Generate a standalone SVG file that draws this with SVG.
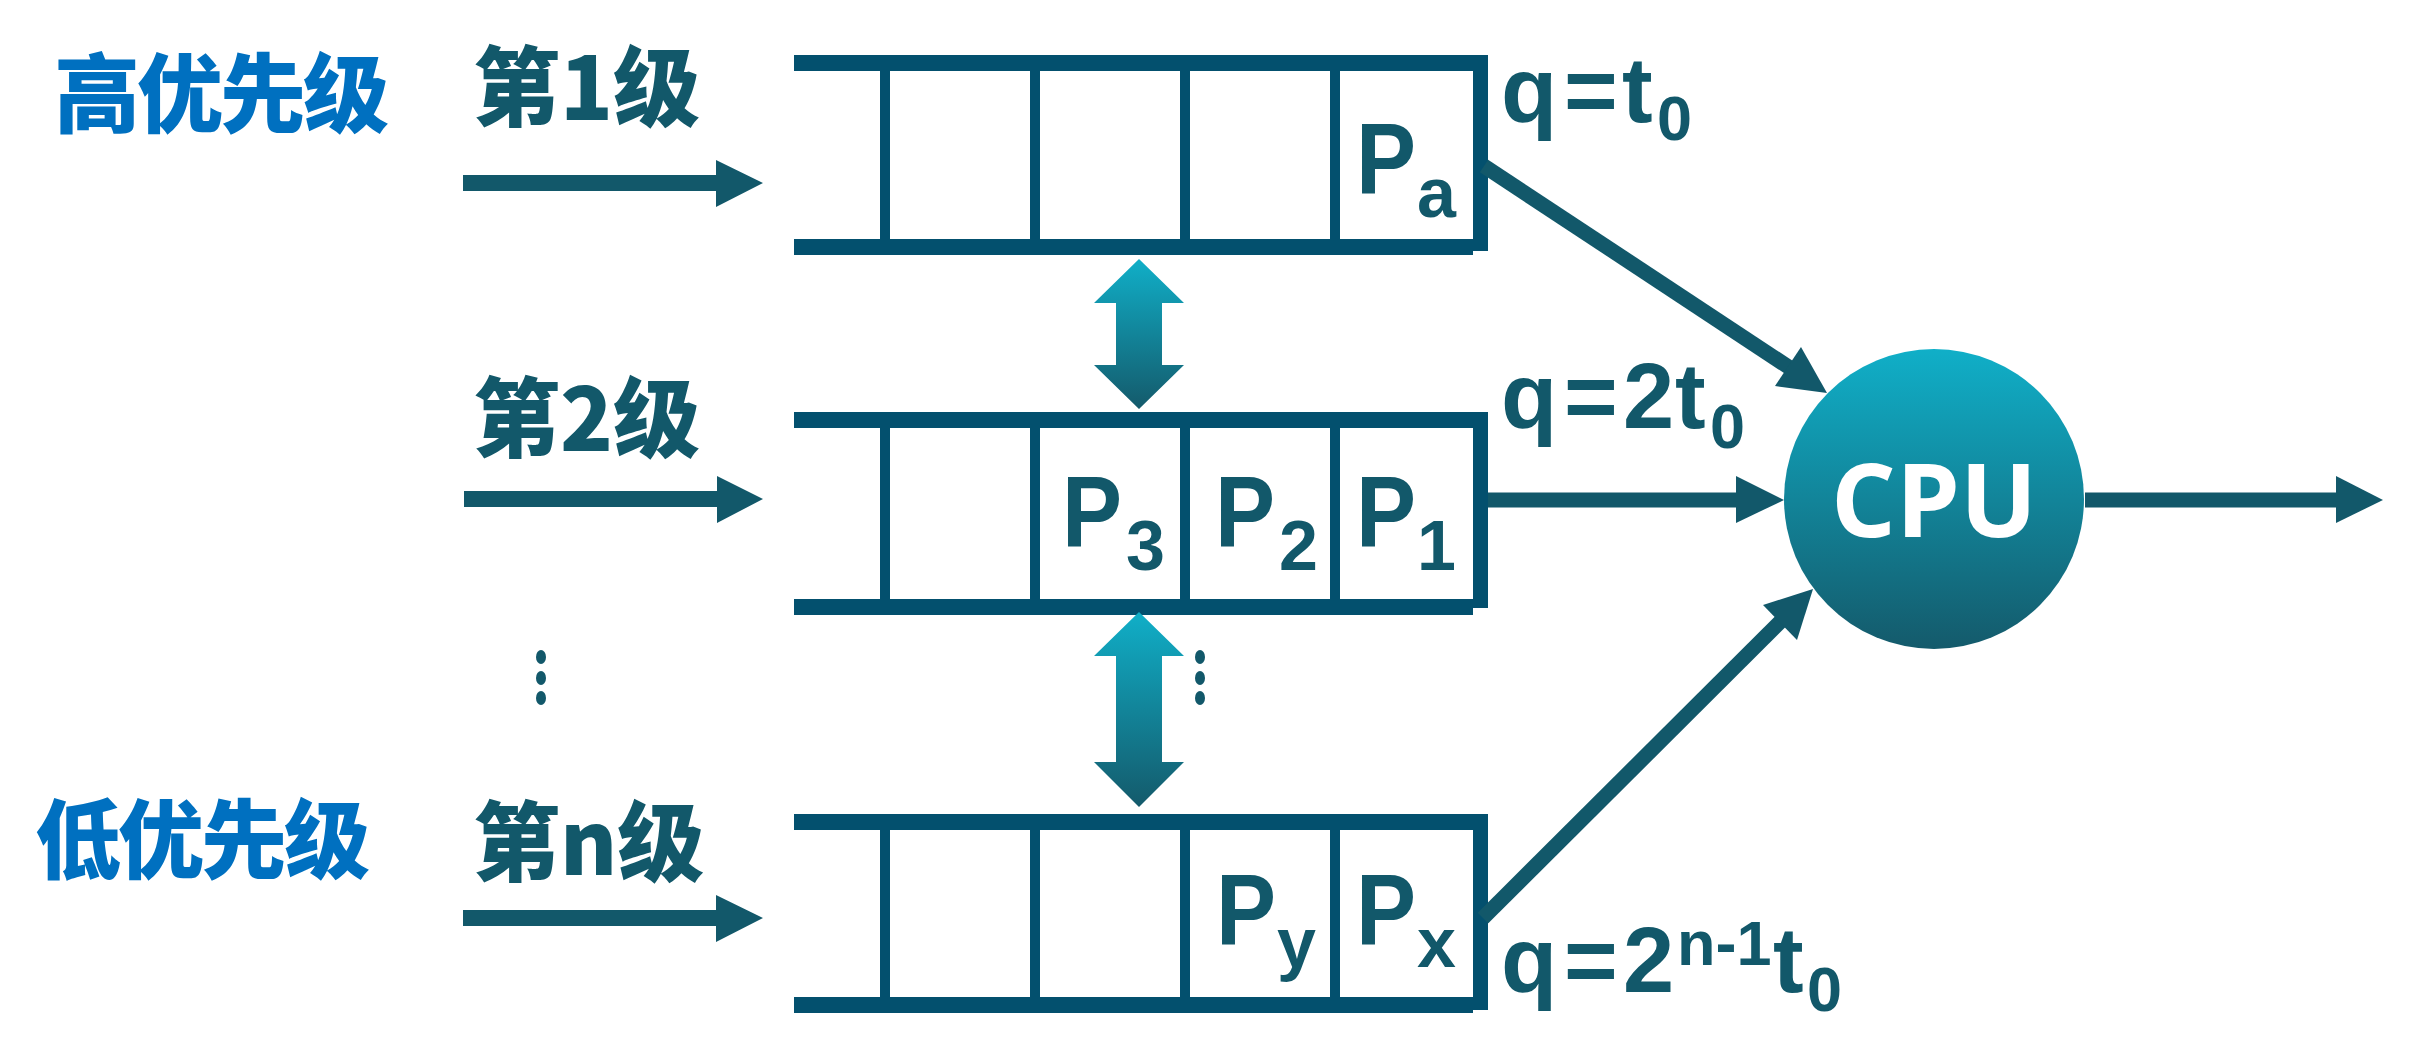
<svg xmlns="http://www.w3.org/2000/svg" width="2411" height="1062" viewBox="0 0 2411 1062">
<defs>
<linearGradient id="gv" x1="0" y1="0" x2="0" y2="1">
<stop offset="0" stop-color="#10AFC8"/>
<stop offset="1" stop-color="#145A6B"/>
</linearGradient>
<style>
.bar{fill:#03506E}
.cn{fill:#12586A}
.ln{stroke:#12586A;stroke-width:15;fill:none}
.prio{font-family:"Noto Sans CJK SC","Noto Sans",sans-serif;font-weight:900;font-size:86px;fill:#0070C0;letter-spacing:-3px}
.lvl{font-family:"Noto Sans CJK SC","Noto Sans",sans-serif;font-weight:900;font-size:87px;fill:#12586A}
.m{font-family:"Liberation Sans",Arial,sans-serif;font-weight:700;fill:#12586A}
.pb{font-size:100px}
.ps{font-size:70px}
.qb{font-size:92px}
.qs{font-size:63px}
.cpu{font-family:"Open Sans","Noto Sans",sans-serif;font-weight:700;font-size:102px;fill:#FFFFFF}
</style>
</defs>
<rect width="2411" height="1062" fill="#FFFFFF"/>

<g id="label-high"><text class="prio" x="54" y="126">高优先级</text></g>
<g id="label-low"><text class="prio" x="35" y="872">低优先级</text></g>

<g id="label-l1"><text class="lvl" x="473" y="120">第1级</text></g>
<g id="label-l2"><text class="lvl" x="473" y="451">第2级</text></g>
<g id="label-ln"><text class="lvl" x="473" y="875">第n级</text></g>

<g id="dots-left" class="cn">
<ellipse cx="541" cy="657" rx="5" ry="7"/>
<ellipse cx="541" cy="678" rx="5" ry="7"/>
<ellipse cx="541" cy="698" rx="5" ry="7"/>
</g>
<g id="dots-mid" class="cn">
<ellipse cx="1200" cy="657" rx="5" ry="7"/>
<ellipse cx="1200" cy="678" rx="5" ry="7"/>
<ellipse cx="1200" cy="698" rx="5" ry="7"/>
</g>

<g id="queue1">
<rect class="bar" x="794" y="55" width="694" height="16"/>
<rect class="bar" x="794" y="239" width="679" height="16"/>
<rect class="bar" x="1473" y="55" width="15" height="196"/>
<rect class="bar" x="880" y="60" width="10" height="190"/>
<rect class="bar" x="1030" y="60" width="10" height="190"/>
<rect class="bar" x="1180" y="60" width="10" height="190"/>
<rect class="bar" x="1330" y="60" width="10" height="190"/>
<text class="m pb" transform="translate(1356,193) scale(0.9,1)">P</text><text class="m ps" x="1417" y="217">a</text>
</g>

<g id="queue2">
<rect class="bar" x="794" y="412" width="694" height="16"/>
<rect class="bar" x="794" y="599" width="679" height="16"/>
<rect class="bar" x="1473" y="412" width="15" height="196"/>
<rect class="bar" x="880" y="417" width="10" height="190"/>
<rect class="bar" x="1030" y="417" width="10" height="190"/>
<rect class="bar" x="1180" y="417" width="10" height="190"/>
<rect class="bar" x="1330" y="417" width="10" height="190"/>
<text class="m pb" transform="translate(1062,546) scale(0.9,1)">P</text><text class="m ps" x="1126" y="570">3</text>
<text class="m pb" transform="translate(1215,546) scale(0.9,1)">P</text><text class="m ps" x="1279" y="570">2</text>
<text class="m pb" transform="translate(1356,546) scale(0.9,1)">P</text><text class="m ps" x="1417" y="570">1</text>
</g>

<g id="queue3">
<rect class="bar" x="794" y="814" width="694" height="16"/>
<rect class="bar" x="794" y="997" width="679" height="16"/>
<rect class="bar" x="1473" y="814" width="15" height="196"/>
<rect class="bar" x="880" y="819" width="10" height="190"/>
<rect class="bar" x="1030" y="819" width="10" height="190"/>
<rect class="bar" x="1180" y="819" width="10" height="190"/>
<rect class="bar" x="1330" y="819" width="10" height="190"/>
<text class="m pb" transform="translate(1216,944) scale(0.9,1)">P</text><text class="m ps" x="1277" y="967">y</text>
<text class="m pb" transform="translate(1356,944) scale(0.9,1)">P</text><text class="m ps" x="1417" y="967">x</text>
</g>

<g id="quantum1"><text class="m qb" x="1501" y="122">q<tspan x="1564">=</tspan><tspan x="1622">t</tspan><tspan class="qs" x="1657" y="140">0</tspan></text></g>
<g id="quantum2"><text class="m qb" x="1501" y="428">q<tspan x="1564">=</tspan><tspan x="1623">2</tspan><tspan x="1675">t</tspan><tspan class="qs" x="1710" y="448">0</tspan></text></g>
<g id="quantum3"><text class="m qb" x="1501" y="992">q<tspan x="1564">=</tspan><tspan x="1623">2</tspan><tspan class="qs" x="1677" y="965">n-1</tspan><tspan x="1773" y="992">t</tspan><tspan class="qs" x="1807" y="1011">0</tspan></text></g>

<g id="cpu">
<circle cx="1934" cy="499" r="150" fill="url(#gv)"/>
<text class="cpu" x="1934" y="537" text-anchor="middle">CPU</text>
</g>

<g id="connectors">
<path class="cn" d="M463,175 H716 V160 L763,183 L716,207 V191 H463 Z"/>
<path class="cn" d="M464,491 H717 V476 L763,499 L717,523 V507 H464 Z"/>
<path class="cn" d="M463,910 H716 V895 L763,918 L716,942 V926 H463 Z"/>
<path fill="url(#gv)" d="M1139,259 L1184,303 H1162 V365 H1184 L1139,409 L1094,365 H1116 V303 H1094 Z"/>
<path fill="url(#gv)" d="M1139,612 L1184,656 H1162 V762 H1184 L1139,807 L1094,762 H1116 V656 H1094 Z"/>
<line class="ln" x1="1484" y1="166" x2="1790" y2="368"/>
<polygon class="cn" points="1801,347 1827,393 1775,386"/>
<line class="ln" x1="1488" y1="500" x2="1738" y2="500"/>
<polygon class="cn" points="1736,476 1784,500 1736,523"/>
<line class="ln" x1="1483" y1="918" x2="1782" y2="620"/>
<polygon class="cn" points="1763,605 1813,589 1797,640"/>
<line class="ln" x1="2085" y1="500" x2="2338" y2="500"/>
<polygon class="cn" points="2336,476 2383,500 2336,523"/>
</g>
</svg>
